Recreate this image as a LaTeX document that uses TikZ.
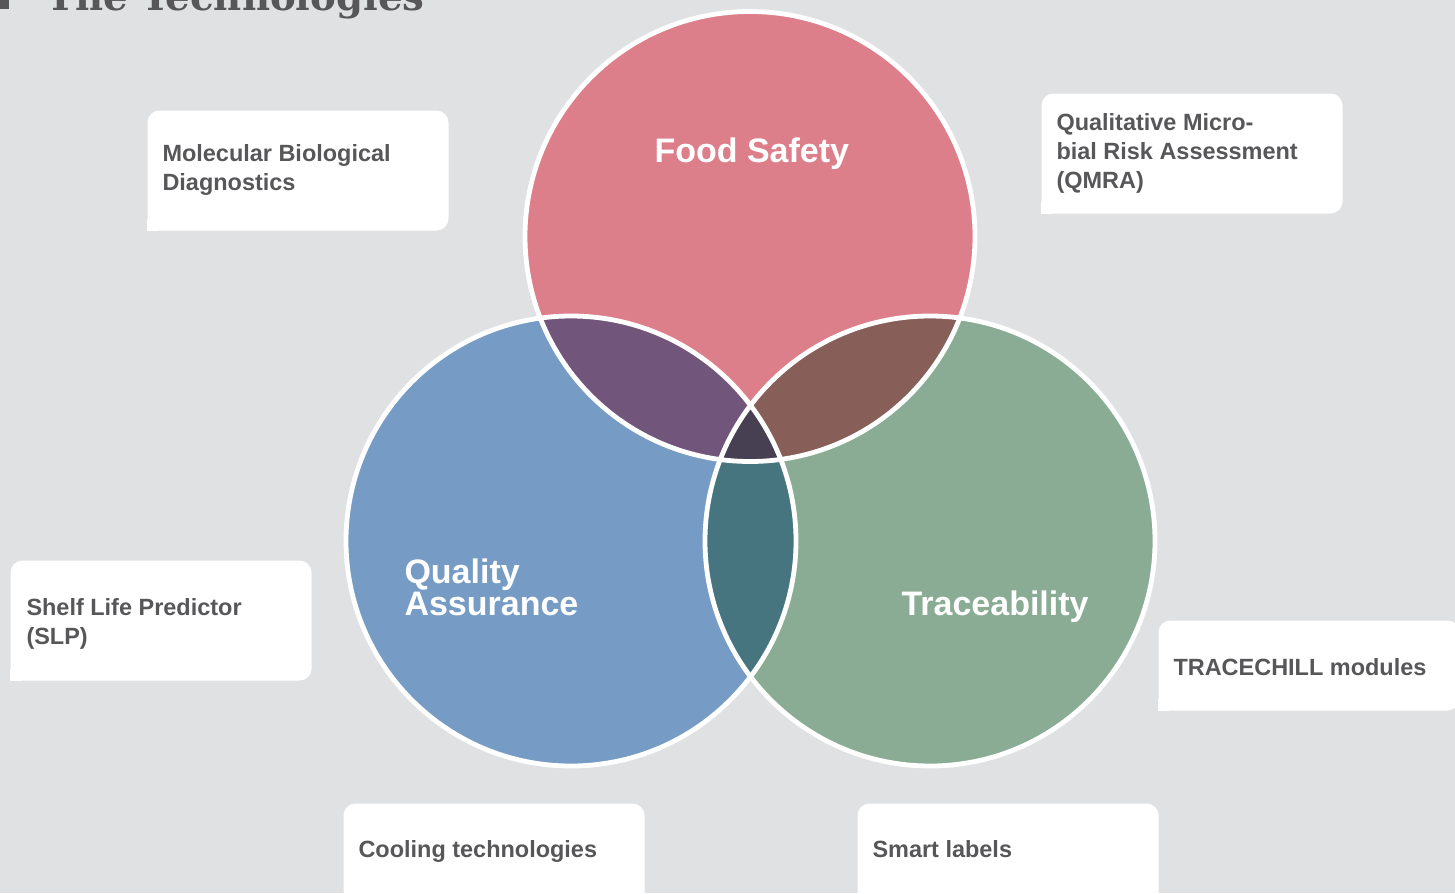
\documentclass[tikz,border=0pt]{standalone}
\usepackage{fontspec}
\setmainfont{Liberation Sans}
\newfontfamily\slabfont{DejaVu Serif}

\definecolor{bggray}{RGB}{224,225,227}
\definecolor{txtgray}{RGB}{87,87,90}
\definecolor{safetyred}{RGB}{220,127,138}
\definecolor{qualityblue}{RGB}{118,155,196}
\definecolor{traceblue}{RGB}{138,172,148}
\definecolor{redblue}{RGB}{114,85,122}
\definecolor{redgreen}{RGB}{135,94,88}
\definecolor{bluegreen}{RGB}{70,117,128}
\definecolor{allthree}{RGB}{70,64,82}

\tikzset{every picture/.style={line width=0.75pt}}
\tikzset{
  card/.style={fill=white, rounded corners=9pt, inner sep=0pt, anchor=north west,
    minimum width=225.75pt, minimum height=90pt},
  cardtext/.style={anchor=base west, inner sep=0.75pt, align=left, text=txtgray,
    font=\bfseries\fontsize{17.6}{21.5}\selectfont},
  settext/.style={anchor=base west, inner sep=0.75pt, align=left, text=white,
    font=\bfseries\fontsize{25.5}{22.5}\selectfont},
  ring/.style={draw=white, line width=3.6pt}
}
\def\rr{225}

\begin{document}
\begin{tikzpicture}[x=0.75pt,y=0.75pt,yscale=-1,xscale=1]
\useasboundingbox (0,0) rectangle (1455,893);
\fill[bggray] (0,0) rectangle (1455,893);

% heading
\fill[txtgray] (-9,-9) rectangle (9,9);
\node[anchor=base west, inner sep=0pt, text=txtgray, font=\slabfont\bfseries\fontsize{29}{32}\selectfont] (title) at (46,10.5) {The Technologies};

% circle centres
\coordinate (fs) at (750,236.5);
\coordinate (qa) at (571,541);
\coordinate (tr) at (930,541);

% the three sets
\fill[safetyred] (fs) circle [radius=\rr];
\fill[qualityblue] (qa) circle [radius=\rr];
\fill[traceblue] (tr) circle [radius=\rr];

% overlaps
\begin{scope}
  \clip (fs) circle [radius=\rr];
  \fill[redblue] (qa) circle [radius=\rr];
  \fill[redgreen] (tr) circle [radius=\rr];
\end{scope}
\begin{scope}
  \clip (qa) circle [radius=\rr];
  \fill[bluegreen] (tr) circle [radius=\rr];
\end{scope}
\begin{scope}
  \clip (fs) circle [radius=\rr];
  \clip (qa) circle [radius=\rr];
  \fill[allthree] (tr) circle [radius=\rr];
\end{scope}

% white outlines
\draw[ring] (fs) circle [radius=\rr];
\draw[ring] (qa) circle [radius=\rr];
\draw[ring] (tr) circle [radius=\rr];

% set labels (base = last line)
\node[settext] (lblfs) at (653,162) {Food Safety};
\node[settext] (lblqa) at (403,615) {Quality\\Assurance};
\node[settext] (lbltr) at (900,615) {Traceability};

% cards
\node[card] (mbd) at (147,110) {};
\fill[white] (mbd.south west) rectangle ++(12,-12);
\node[cardtext] (txtmbd) at (161,190) {Molecular Biological\\Diagnostics};

\node[card] (qmra) at (1041,93) {};
\fill[white] (qmra.south west) rectangle ++(12,-12);
\node[cardtext] (txtqmra) at (1055,188) {Qualitative Micro-\\bial Risk Assessment\\(QMRA)};

\node[card] (slp) at (10,560) {};
\fill[white] (slp.south west) rectangle ++(12,-12);
\node[cardtext] (txtslp) at (25,644) {Shelf Life Predictor\\(SLP)};

\node[card, minimum height=67.5pt] (tcm) at (1158,620) {};
\fill[white] (tcm.south west) rectangle ++(12,-12);
\node[cardtext] (txttcm) at (1172,675) {TRACECHILL modules};

\node[card] (cool) at (343,803) {};
\node[cardtext] (txtcool) at (357,857) {Cooling technologies};

\node[card] (smart) at (857,803) {};
\node[cardtext] (txtsmart) at (871,857) {Smart labels};

\end{tikzpicture}
\end{document}
